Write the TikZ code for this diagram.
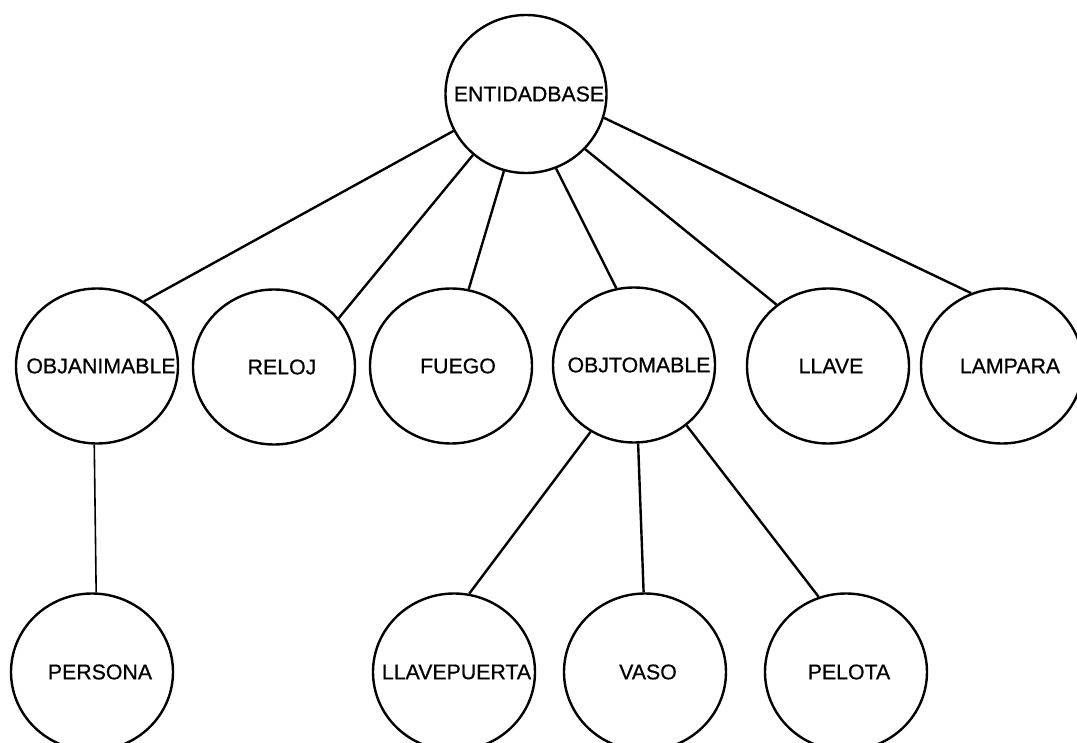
\documentclass[tikz,border=0pt]{standalone}
\usepackage{fontspec}
\setmainfont{Liberation Sans}
\newfontfamily\labfont[FakeBold=0.6]{Liberation Sans}
\usetikzlibrary{shapes.geometric}
\newcommand{\lbl}[2]{\makebox[0pt]{\kern#1#2}}
\begin{document}
\begin{tikzpicture}[x=1pt,y=-1pt,
  ent/.style={draw, line width=2.4pt, ellipse, inner sep=0pt,
    minimum width=162pt, minimum height=155pt,
    font=\labfont\fontsize{21.3}{25}\selectfont},
  top/.style={ent, minimum width=161pt, minimum height=158pt},
  link/.style={line width=2.4pt},
  thin/.style={line width=1.6pt}]
\clip (0,0) rectangle (1077,743);
\fill[white] (0,0) rectangle (1077,743);

\node[top] (E) at (526,94) {\lbl{6pt}{ENTIDADBASE}};

\node[ent] (OA) at (97,366)  {\lbl{8pt}{OBJANIMABLE}};
\node[ent] (RE) at (274,367) {\lbl{16pt}{RELOJ}};
\node[ent] (FU) at (451,366) {\lbl{14pt}{FUEGO}};
\node[ent] (OT) at (634,365) {\lbl{10pt}{OBJTOMABLE}};
\node[ent] (LL) at (828,366) {\lbl{6pt}{LLAVE}};
\node[ent] (LA) at (1002,366) {\lbl{16pt}{LAMPARA}};

\node[ent, minimum height=157pt] (PE) at (92,672)  {\lbl{16pt}{PERSONA}};
\node[ent, minimum height=157pt] (LP) at (454,672) {\lbl{5pt}{LLAVEPUERTA}};
\node[ent, minimum height=157pt] (VA) at (645,672) {\lbl{6pt}{VASO}};
\node[ent, minimum height=157pt] (PL) at (846,672) {\lbl{6pt}{PELOTA}};

\draw[link] (E.207.5) -- (OA.54.3);
\draw[link] (E.229)   -- (RE.37.7);
\draw[link] (E.254.7) -- (FU.77.4);
\draw[link] (E.292.2) -- (OT.103);
\draw[link] (E.317.5) -- (LL.130);
\draw[link] (E.343.8) -- (LA.113);

\draw[thin] (OA.268.5) -- (PE.87.8);

\draw[link] (OT.237)   -- (LP.79.7);
\draw[link] (OT.273.7) -- (VA.91.5);
\draw[link] (OT.311)   -- (PL.110.7);
\end{tikzpicture}
\end{document}
